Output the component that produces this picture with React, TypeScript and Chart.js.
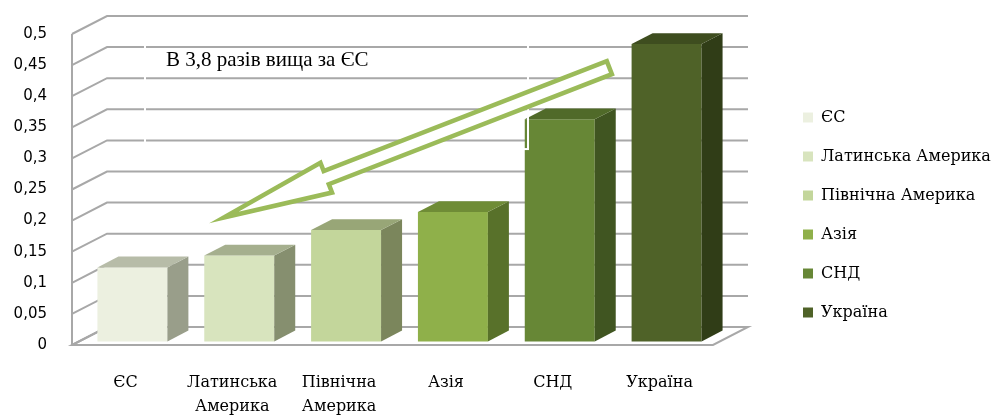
import React, { useEffect, useRef } from "react";
import { Chart, registerables } from "chart.js";

Chart.register(...registerables);

// ---- data ----
const categories = ["ЄС", "Латинська Америка", "Північна Америка", "Азія", "СНД", "Україна"];
const axisLabels = [["ЄС"], ["Латинська", "Америка"], ["Північна", "Америка"], ["Азія"], ["СНД"], ["Україна"]];
const values = [0.119, 0.138, 0.179, 0.208, 0.357, 0.478];
const yTickLabels = ["0", "0,05", "0,1", "0,15", "0,2", "0,25", "0,3", "0,35", "0,4", "0,45", "0,5"];
const annotationText = "В 3,8 разів вища за ЄС";

// ---- styles ----
const frontColors = ["#ECF0E0", "#D8E4BE", "#C3D69B", "#8FB04A", "#678736", "#4F6228"];
const topColors = ["#B7BCA8", "#A5AF8E", "#98A677", "#6F8C36", "#506A29", "#3E4D1F"];
const sideColors = ["#999E8A", "#868F6F", "#7B865C", "#58712A", "#405521", "#303D17"];
const gridColor = "#a8a8a8";
const serifStack = '"DejaVu Serif", "Liberation Serif", serif';
const DX = 35;
const DY = -18;
const BAR_FRONT = 0.2;
const BAR_DEPTH = 0.6;
const LEGEND_WIDTH = 225;

const threeD = {
  id: "threeD",
  beforeLayout(chart: any) {
    const lg = chart.legend;
    if (lg && !lg.__fixedWidth) {
      const orig = lg.fit.bind(lg);
      lg.fit = () => {
        orig();
        lg.width = LEGEND_WIDTH;
      };
      lg.__fixedWidth = true;
    }
  },
  beforeDatasetsDraw(chart: any) {
    const { ctx, chartArea, scales } = chart;
    const { left, right } = chartArea;
    const y = scales.y;
    const y0 = y.getPixelForValue(0);
    const yTop = y.getPixelForValue(0.5);
    ctx.save();
    ctx.lineWidth = 2;
    ctx.strokeStyle = gridColor;
    ctx.fillStyle = "#ffffff";
    // floor
    ctx.beginPath();
    ctx.moveTo(left, y0);
    ctx.lineTo(right, y0);
    ctx.lineTo(right + DX, y0 + DY);
    ctx.lineTo(left + DX, y0 + DY);
    ctx.closePath();
    ctx.fill();
    ctx.stroke();
    // side wall + back wall grid lines
    y.ticks.forEach((t: any) => {
      const py = y.getPixelForValue(t.value);
      ctx.beginPath();
      ctx.moveTo(left, py);
      ctx.lineTo(left + DX, py + DY);
      ctx.lineTo(right + DX, py + DY);
      ctx.stroke();
    });
    // front-left edge
    ctx.beginPath();
    ctx.moveTo(left, y0);
    ctx.lineTo(left, yTop);
    ctx.stroke();
    ctx.restore();

    ctx.save();
    ctx.translate(DX * BAR_FRONT, DY * BAR_FRONT);
  },
  afterDatasetsDraw(chart: any) {
    const { ctx, chartArea, scales } = chart;
    const meta = chart.getDatasetMeta(0);
    const bx = DX * BAR_DEPTH;
    const by = DY * BAR_DEPTH;
    meta.data.forEach((el: any, i: number) => {
      const { x, y, base, width } = el.getProps(["x", "y", "base", "width"], true);
      const l = x - width / 2;
      const r = x + width / 2;
      ctx.fillStyle = sideColors[i];
      ctx.beginPath();
      ctx.moveTo(r, y);
      ctx.lineTo(r + bx, y + by);
      ctx.lineTo(r + bx, base + by);
      ctx.lineTo(r, base);
      ctx.closePath();
      ctx.fill();
      ctx.fillStyle = topColors[i];
      ctx.beginPath();
      ctx.moveTo(l, y);
      ctx.lineTo(l + bx, y + by);
      ctx.lineTo(r + bx, y + by);
      ctx.lineTo(r, y);
      ctx.closePath();
      ctx.fill();
    });
    ctx.restore();

    // annotation: text box border, text and arrow
    const xs = scales.x;
    const ys = scales.y;
    const { left } = chartArea;
    ctx.save();
    ctx.strokeStyle = "#ffffff";
    ctx.lineWidth = 2;
    ctx.strokeRect(left + 73, ys.getPixelForValue(0.505), 383, ys.getPixelForValue(0.315) - ys.getPixelForValue(0.505));

    ctx.fillStyle = "#000000";
    ctx.font = '21px "Liberation Serif"';
    ctx.textAlign = "left";
    ctx.textBaseline = "alphabetic";
    ctx.fillText(annotationText, left + 94, ys.getPixelForValue(0.45) + 1);

    // arrow
    const T = { x: xs.getPixelForValue(4.53), y: ys.getPixelForValue(0.446) };
    const P = { x: xs.getPixelForValue(0.92), y: ys.getPixelForValue(0.205) };
    const dxA = P.x - T.x;
    const dyA = P.y - T.y;
    const len = Math.hypot(dxA, dyA);
    const u = { x: dxA / len, y: dyA / len };
    const n = { x: -u.y, y: u.x };
    const w = 7;
    const h = 16;
    const Lh = 110;
    const B = { x: P.x - u.x * Lh, y: P.y - u.y * Lh };
    const pts = [
      [T.x + n.x * w, T.y + n.y * w],
      [B.x + n.x * w, B.y + n.y * w],
      [B.x + n.x * h, B.y + n.y * h],
      [P.x, P.y],
      [B.x - n.x * h, B.y - n.y * h],
      [B.x - n.x * w, B.y - n.y * w],
      [T.x - n.x * w, T.y - n.y * w],
    ];
    ctx.beginPath();
    pts.forEach((p, i) => (i === 0 ? ctx.moveTo(p[0], p[1]) : ctx.lineTo(p[0], p[1])));
    ctx.closePath();
    ctx.fillStyle = "#ffffff";
    ctx.fill();
    ctx.strokeStyle = "#9BBB59";
    ctx.lineWidth = 4.5;
    ctx.lineJoin = "miter";
    ctx.stroke();
    ctx.restore();
  },
};

export default function App() {
  const canvasRef = useRef<HTMLCanvasElement | null>(null);

  useEffect(() => {
    document.body.style.margin = "0";
    const canvas = canvasRef.current;
    if (!canvas) return;
    const chart = new Chart(canvas, {
      type: "bar",
      data: {
        labels: axisLabels as any,
        datasets: [
          {
            label: "Series",
            data: values,
            backgroundColor: frontColors,
            borderWidth: 0,
            barPercentage: 0.655,
            categoryPercentage: 1,
            clip: false as any,
          },
        ],
      },
      options: {
        animation: false,
        responsive: true,
        maintainAspectRatio: false,
        devicePixelRatio: 1,
        layout: { padding: { top: 13, bottom: 0, left: 0, right: 0 } },
        plugins: {
          tooltip: { enabled: false },
          legend: {
            position: "right",
            labels: {
              boxWidth: 10,
              boxHeight: 10,
              padding: 23,
              color: "#000",
              font: { family: serifStack, size: 16 },
              generateLabels: () =>
                categories.map((c, i) => ({
                  text: c,
                  fillStyle: frontColors[i],
                  strokeStyle: frontColors[i],
                  lineWidth: 0,
                  hidden: false,
                  index: i,
                  datasetIndex: 0,
                })),
            },
          },
        },
        scales: {
          x: {
            grid: { display: false, drawTicks: false },
            border: { display: false },
            ticks: {
              autoSkip: false,
              maxRotation: 0,
              minRotation: 0,
              padding: 26,
              color: "#000",
              font: { family: serifStack, size: 16, lineHeight: 1.5 },
            },
            afterFit: (s: any) => {
              s.height = 72;
            },
          },
          topSpace: {
            type: "linear",
            position: "top",
            display: true,
            grid: { display: false, drawTicks: false },
            border: { display: false },
            ticks: { display: false },
            afterFit: (s: any) => {
              s.height = 18;
            },
          },
          y: {
            min: 0,
            max: 0.5,
            grid: { display: false, drawTicks: false },
            border: { display: false },
            ticks: {
              stepSize: 0.05,
              padding: 25,
              color: "#000",
              font: { family: '"DejaVu Sans"', size: 15 },
              callback: (_v: any, i: number) => yTickLabels[i],
            },
            afterFit: (s: any) => {
              s.width = 72;
            },
          },
          depth: {
            type: "linear",
            position: "right",
            display: true,
            grid: { display: false, drawTicks: false },
            border: { display: false },
            ticks: { display: false },
            afterFit: (s: any) => {
              s.width = 67;
            },
          },
        },
      } as any,
      plugins: [threeD],
    });
    return () => chart.destroy();
  }, []);

  return (
    <div style={{ position: "absolute", left: 0, top: 0, width: 1005, height: 417 }}>
      <canvas ref={canvasRef} />
    </div>
  );
}
